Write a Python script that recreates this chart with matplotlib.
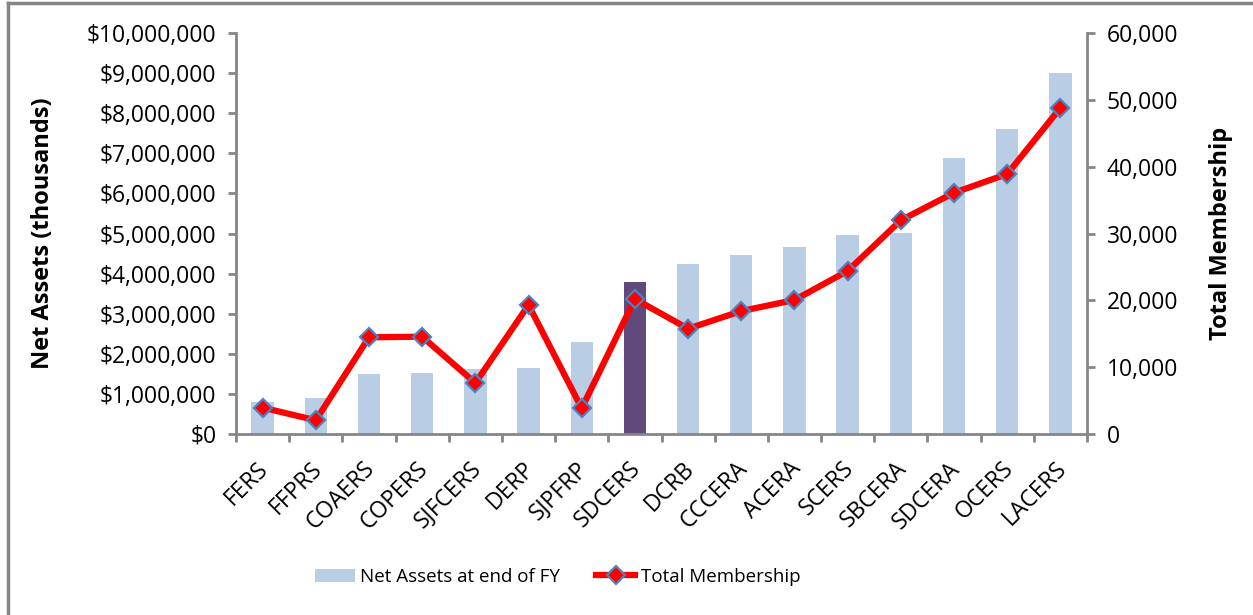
import matplotlib
matplotlib.use("Agg")
import matplotlib.pyplot as plt
from matplotlib.ticker import FuncFormatter, MultipleLocator, FixedLocator
from matplotlib.lines import Line2D
from matplotlib.transforms import ScaledTranslation
import numpy as np

categories = ["FERS", "FFPRS", "COAERS", "COPERS", "SJFCERS", "DERP", "SJPFRP", "SDCERS",
              "DCRB", "CCCERA", "ACERA", "SCERS", "SBCERA", "SDCERA", "OCERS", "LACERS"]
net_assets = [800000, 905000, 1500000, 1520000, 1620000, 1650000, 2290000, 3790000,
              4240000, 4460000, 4660000, 4960000, 5010000, 6880000, 7610000, 9000000]
membership = [3950, 2050, 14470, 14560, 7630, 19300, 3850, 20200,
              15760, 18400, 20050, 24400, 31980, 36100, 38900, 48800]
highlight = "SDCERS"

FONT = "Open Sans"
plt.rcParams['font.family'] = [FONT, 'DejaVu Sans']

fig = plt.figure(figsize=(12.53, 6.15), dpi=100)
W, H = 1253, 615
ax = fig.add_axes([236/W, 1-434/H, (1087-236)/W, (434-33)/H])
ax2 = ax.twinx()

x = np.arange(len(categories))
colors = ["#604A7B" if c == highlight else "#B9CDE5" for c in categories]
ax.bar(x, net_assets, width=0.42, color=colors, zorder=2, label="Net Assets at end of FY")
ax2.plot(x, membership, color="#FF0000", lw=4.5, marker="D", markersize=9.5,
         markerfacecolor="#FF0000", markeredgecolor="#4F81BD", markeredgewidth=1.6,
         label="Total Membership", zorder=3)

ax.set_xlim(-0.5, len(categories)-0.5)
ax.set_ylim(0, 10000000)
ax2.set_ylim(0, 60000)
ax.yaxis.set_major_locator(MultipleLocator(1000000))
ax2.yaxis.set_major_locator(MultipleLocator(10000))
ax.yaxis.set_major_formatter(FuncFormatter(lambda v, p: "${:,.0f}".format(v)))
ax2.yaxis.set_major_formatter(FuncFormatter(lambda v, p: "{:,.0f}".format(v)))

ax.xaxis.set_major_locator(FixedLocator(np.arange(-0.5, len(categories), 1.0)))
ax.xaxis.set_major_formatter(FuncFormatter(lambda v, p: ""))
ax.set_xticks(x, labels=categories, minor=True)
ax.tick_params(axis='x', which='minor', length=0, pad=10, labelsize=16.5)
offset = ScaledTranslation(-0.06, -0.09, fig.dpi_scale_trans)
for lbl in ax.get_xticklabels(minor=True):
    lbl.set_rotation(45)
    lbl.set_rotation_mode('anchor')
    lbl.set_ha('right')
    lbl.set_va('top')
    lbl.set_transform(lbl.get_transform() + offset)
ax.tick_params(axis='x', which='major', length=6, width=2, color="#868686", direction='out')
ax.tick_params(axis='y', length=6, width=2, color="#868686", labelsize=16.5, pad=8)
ax2.tick_params(axis='y', length=6, width=2, color="#868686", labelsize=16.5, pad=8)

for a in (ax, ax2):
    a.spines['top'].set_visible(False)
    for s in ('left', 'right', 'bottom'):
        a.spines[s].set_color("#868686")
        a.spines[s].set_linewidth(2)
ax.spines['right'].set_visible(False)
ax2.spines['left'].set_visible(False)
ax2.spines['bottom'].set_visible(False)

ax.set_ylabel("Net Assets (thousands)", fontsize=17, fontweight='bold')
ax.yaxis.set_label_coords((55-236)/851, 0.5)
ax2.set_ylabel("Total Membership", fontsize=17, fontweight='bold')
ax2.yaxis.set_label_coords((1209-236)/851, 0.5)

h1, l1 = ax.get_legend_handles_labels()
h2, l2 = ax2.get_legend_handles_labels()
leg = fig.legend(h1 + h2, l1 + l2, loc='center', bbox_to_anchor=(558/W, 1-577/H), ncol=2,
                 frameon=False, fontsize=13.5, handlelength=2.1, columnspacing=1.9, handletextpad=0.3)

fig.add_artist(Line2D([8/W, 8/W], [0, 1-3/H], color="#868686", lw=2.5, transform=fig.transFigure))
fig.add_artist(Line2D([8/W, 1], [1-3/H, 1-3/H], color="#868686", lw=2.5, transform=fig.transFigure))

fig.savefig("out.png", dpi=100)
